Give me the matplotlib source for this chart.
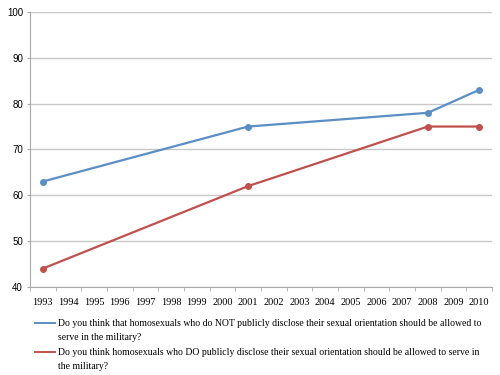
import matplotlib
matplotlib.use('Agg')
import matplotlib.pyplot as plt
from matplotlib.lines import Line2D
import numpy as np

years = [str(y) for y in range(1993, 2011)]
survey_years = ['1993', '2001', '2008', '2010']
not_disclose = [63, 75, 78, 83]
do_disclose = [44, 62, 75, 75]

label_not = ("Do you think that homosexuals who do NOT publicly disclose their sexual orientation should be allowed to\n"
             "serve in the military?")
label_do = ("Do you think homosexuals who DO publicly disclose their sexual orientation should be allowed to serve in\n"
            "the military?")

blue = '#5b8ec4'
red = '#c0504d'

fig = plt.figure(figsize=(5, 3.75), dpi=100)
ax = fig.add_axes([0.06, 0.235, 0.924, 0.733])

xpos = [years.index(y) for y in survey_years]
ax.plot(xpos, not_disclose, color=blue, lw=1.6, marker='o', ms=4)
ax.plot(xpos, do_disclose, color=red, lw=1.6, marker='o', ms=4)

ax.set_xlim(-0.5, len(years) - 0.5)
ax.set_ylim(40, 100)
ax.set_yticks(range(40, 101, 10))
ax.set_xticks(range(len(years)))
ax.set_xticklabels(years, family='Liberation Serif', fontsize=7.4)
ax.set_xticks(np.arange(-0.5, len(years), 1), minor=True)
ax.tick_params(axis='x', which='major', length=0, pad=8)
ax.tick_params(axis='x', which='minor', length=3, color='#aaaaaa')
ax.tick_params(axis='y', length=2, color='#aaaaaa', labelsize=7, pad=3)
for t in ax.get_yticklabels():
    t.set_family('Liberation Sans')

ax.grid(axis='y', color='#c8c8c8', lw=1)
ax.set_axisbelow(True)
for s in ['top', 'right']:
    ax.spines[s].set_visible(False)
for s in ['left', 'bottom']:
    ax.spines[s].set_color('#aaaaaa')

# legend below the plot, handle aligned with the first text line
for label, color, ypix in [(label_not, blue, 323), (label_do, red, 352)]:
    yf = 1 - ypix / 375
    fig.add_artist(Line2D([35 / 500, 55 / 500], [yf, yf], color=color, lw=1.4,
                          transform=fig.transFigure))
    fig.text(58 / 500, 1 - (ypix - 4) / 375, label, family='Liberation Serif',
             fontsize=7, va='top', ha='left', linespacing=1.65)

fig.savefig('out.png', dpi=100)
